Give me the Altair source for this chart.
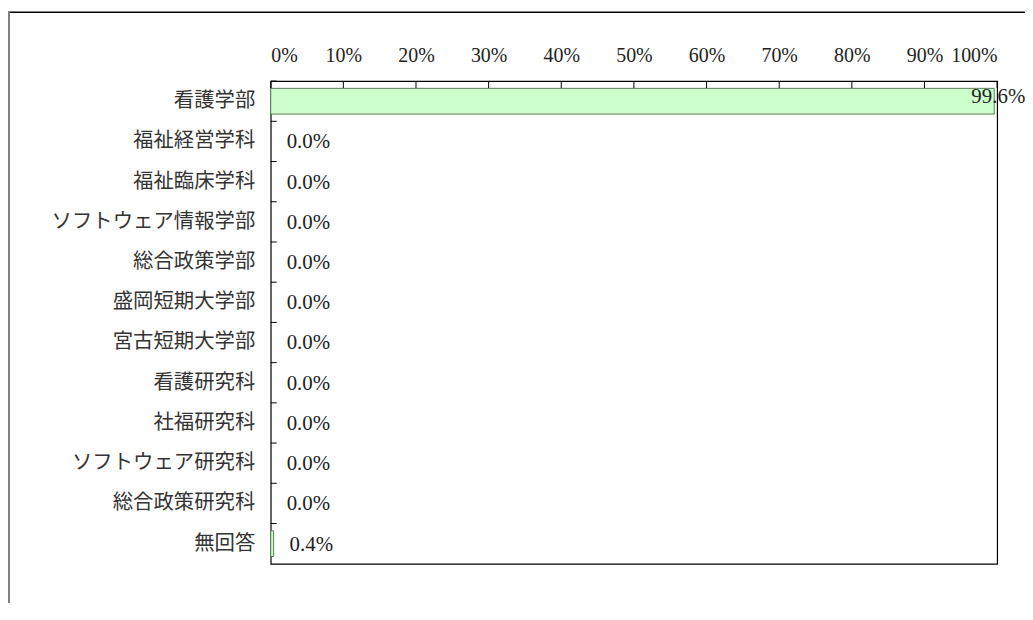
import altair as alt
import pandas as pd

categories = ['看護学部', '福祉経営学科', '福祉臨床学科', 'ソフトウェア情報学部', '総合政策学部',
              '盛岡短期大学部', '宮古短期大学部', '看護研究科', '社福研究科', 'ソフトウェア研究科',
              '総合政策研究科', '無回答']
values = [99.6, 0.0, 0.0, 0.0, 0.0, 0.0, 0.0, 0.0, 0.0, 0.0, 0.0, 0.4]
x_ticks = [0, 10, 20, 30, 40, 50, 60, 70, 80, 90, 100]

df = pd.DataFrame({'cat': categories, 'value': values})
ticks_df = pd.DataFrame({'t': x_ticks})
bound_df = pd.DataFrame({'cat': categories})

SERIF = 'Liberation Serif'
CJK = 'Noto Sans CJK JP'

xscale = alt.Scale(domain=[0, 100], nice=False, zero=True)
yscale = alt.Scale(domain=categories, paddingInner=0, paddingOuter=0)

bars = alt.Chart(df).transform_filter('datum.value > 0').mark_bar(
    height={'band': 0.64}, fill='#ccffcc', stroke='#5a7a5a', strokeWidth=1
).encode(
    x=alt.X('value:Q', scale=xscale,
            axis=alt.Axis(orient='top', values=x_ticks, labelExpr="datum.value + '%'",
                          domain=False, ticks=False, grid=False, title=None,
                          labelFont=SERIF, labelFontSize=20, labelColor='#222',
                          labelPadding=16)),
    y=alt.Y('cat:N', scale=yscale, sort=categories,
            axis=alt.Axis(domain=False, ticks=False, grid=False, title=None,
                          labelFont=CJK, labelFontSize=20.5, labelColor='#333',
                          labelPadding=16, labelAlign='right', labelLimit=0))
)

small_labels = alt.Chart(df).transform_filter('datum.value < 50').transform_calculate(
    lbl="format(datum.value, '.1f') + '%'"
).mark_text(align='left', baseline='middle', dx=16, dy=1, font=SERIF, fontSize=21, color='#222').encode(
    x=alt.X('value:Q', scale=xscale),
    y=alt.Y('cat:N', scale=yscale, sort=categories),
    text='lbl:N'
)

big_labels = alt.Chart(df).transform_filter('datum.value >= 50').transform_calculate(
    lbl="format(datum.value, '.1f') + '%'"
).mark_text(align='left', baseline='middle', dx=-23, dy=-4, font=SERIF, fontSize=21, color='#222').encode(
    x=alt.X('value:Q', scale=xscale),
    y=alt.Y('cat:N', scale=yscale, sort=categories),
    text='lbl:N'
)

x_tick_rules = alt.Chart(ticks_df).mark_rule(color='#000', strokeWidth=1).encode(
    x=alt.X('t:Q', scale=xscale),
    y=alt.value(0),
    y2=alt.value(7)
)

y_tick_rules = alt.Chart(bound_df).mark_rule(color='#000', strokeWidth=1).encode(
    y=alt.Y('cat:N', scale=yscale, sort=categories, bandPosition=0),
    x=alt.value(0),
    x2=alt.value(6)
)

frame_top = alt.Chart(ticks_df).mark_rule(color='#000', strokeWidth=1).encode(
    x=alt.value(-264), x2=alt.value(770), y=alt.value(-69)
)
frame_left = alt.Chart(ticks_df).mark_rule(color='#808080', strokeWidth=2).encode(
    x=alt.value(-263), y=alt.value(-69), y2=alt.value(560)
)

chart = alt.layer(
    frame_top, frame_left, bars, x_tick_rules, y_tick_rules, small_labels, big_labels
).properties(
    width=730, height=485,
    autosize=alt.AutoSizeParams(type='none'),
    padding={'left': 264, 'top': 72, 'right': 28, 'bottom': 38}
).configure(
    background='white',
    view=alt.ViewConfig(stroke='#000', strokeWidth=1.2)
)

chart.save('out.html', embed_options={'renderer': 'svg', 'actions': False})
